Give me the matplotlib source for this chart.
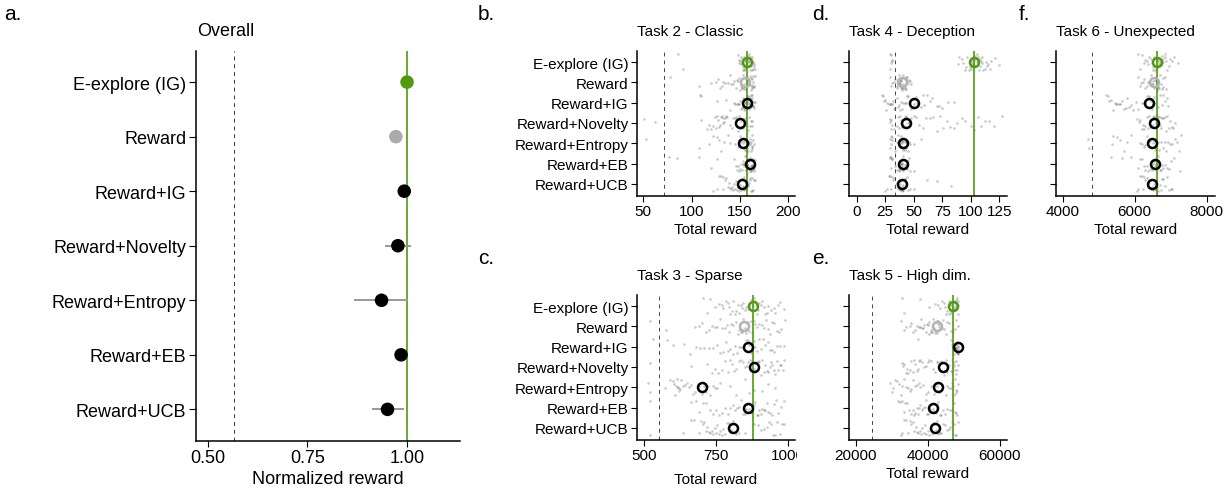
import matplotlib
matplotlib.use("Agg")
import matplotlib.pyplot as plt
from matplotlib.transforms import Bbox, TransformedBbox
import numpy as np

plt.rcParams["font.family"] = ["Liberation Sans", "DejaVu Sans"]

W, H = 1228, 489
GREEN = "#4f9a0f"
LIGHT = "#aaaaaa"

methods = ["E-explore (IG)", "Reward", "Reward+IG", "Reward+Novelty",
           "Reward+Entropy", "Reward+EB", "Reward+UCB"]

# overall normalized reward (mean and interval)
overall_mean = [1.000, 0.972, 0.993, 0.977, 0.936, 0.985, 0.951]
overall_lo = [0.998, 0.962, 0.985, 0.945, 0.868, 0.976, 0.913]
overall_hi = [1.002, 0.982, 1.000, 1.009, 1.003, 0.994, 0.993]
overall_base = 0.565

# task 2 - classic
t2_points = [
    [86, 91, 148, 149, 149, 150, 151, 151, 152, 152, 153, 153, 154, 154, 155, 155, 155, 156, 156, 156, 157, 157, 157, 158, 158, 158, 159, 159, 160, 160, 160, 161, 161, 162, 162, 163, 163, 164, 164, 165, 165, 166],
    [78, 108, 120, 125, 127, 129, 131, 132, 135, 138, 140, 141, 143, 144, 146, 147, 148, 149, 150, 151, 152, 152, 153, 154, 154, 155, 155, 156, 156, 157, 157, 158, 158, 159, 159, 160, 160, 161, 161, 162, 162, 163, 163, 164, 164, 165, 165, 166],
    [109, 110, 126, 136, 140, 144, 145, 147, 148, 149, 150, 151, 152, 153, 153, 154, 154, 155, 155, 156, 156, 157, 157, 158, 158, 159, 159, 160, 160, 161, 161, 162, 162, 163, 163, 164, 164, 165, 165, 166],
    [51, 62, 110, 116, 118, 120, 122, 124, 125, 126, 127, 128, 129, 130, 131, 132, 133, 134, 135, 136, 137, 140, 142, 143, 145, 146, 148, 149, 150, 151, 152, 153, 154, 155, 156, 157, 158, 159, 160, 161, 162, 163],
    [53, 108, 118, 122, 126, 128, 130, 134, 138, 140, 145, 148, 149, 150, 150, 151, 152, 153, 154, 155, 155, 156, 156, 157, 157, 158, 158, 159, 159, 160, 160, 161, 161, 162, 162, 163, 163, 164, 165],
    [77, 85, 108, 120, 126, 144, 146, 147, 148, 149, 150, 151, 152, 153, 153, 154, 154, 155, 155, 156, 156, 157, 157, 158, 158, 159, 159, 160, 160, 161, 161, 162, 162, 163, 163, 164, 164, 165, 165, 166],
    [122, 126, 128, 130, 132, 133, 135, 136, 138, 139, 140, 141, 142, 143, 144, 145, 146, 147, 148, 149, 150, 151, 152, 152, 153, 154, 154, 155, 156, 156, 157, 158, 158, 159, 160, 160, 161, 162, 163, 164, 165, 166],
]
t2_mean = [157, 155, 157, 150, 153.5, 160, 152]
t2_base = 71

# task 3 - sparse
t3_points = [
    [705, 720, 730, 745, 760, 770, 775, 785, 790, 795, 800, 805, 810, 815, 820, 825, 830, 835, 840, 845, 850, 855, 860, 865, 870, 875, 878, 882, 885, 888, 892, 896, 900, 905, 910, 915, 920, 925, 930, 940, 950, 955, 965, 970, 985],
    [521, 578, 676, 690, 700, 715, 725, 735, 745, 755, 765, 772, 780, 788, 795, 802, 810, 818, 825, 830, 835, 840, 845, 850, 855, 860, 865, 870, 875, 880, 885, 892, 900, 908, 915, 922, 930, 938, 945, 952, 960, 968, 975, 987],
    [532, 580, 600, 640, 660, 680, 695, 710, 725, 740, 752, 765, 775, 785, 792, 800, 808, 815, 822, 830, 838, 845, 852, 860, 865, 870, 875, 880, 885, 890, 898, 905, 912, 920, 928, 935, 942, 950, 960, 970, 985],
    [521, 665, 720, 735, 745, 758, 770, 780, 790, 798, 805, 812, 820, 828, 835, 842, 850, 856, 862, 868, 875, 880, 885, 890, 895, 900, 905, 910, 915, 920, 925, 930, 935, 940, 945, 950, 955, 960, 965, 970, 975, 980, 985],
    [515, 521, 573, 590, 600, 605, 610, 612, 615, 618, 620, 622, 625, 630, 635, 642, 650, 658, 665, 670, 676, 690, 700, 708, 715, 722, 730, 738, 745, 755, 763, 800, 820, 850, 865, 880, 910, 930, 955],
    [521, 665, 680, 690, 705, 715, 728, 740, 750, 760, 770, 780, 790, 800, 808, 815, 822, 830, 838, 845, 850, 855, 860, 865, 870, 875, 880, 885, 890, 895, 900, 905, 910, 915, 920, 925, 930, 935, 942, 950, 958, 965, 975, 985],
    [521, 636, 665, 675, 690, 698, 705, 710, 715, 720, 725, 730, 735, 740, 745, 750, 755, 760, 765, 770, 775, 780, 788, 795, 802, 810, 820, 830, 850, 880, 895, 905, 915, 925, 932, 940, 948, 955, 962, 970, 978, 985],
]
t3_mean = [877, 848, 860, 882, 702, 860, 808]
t3_base = 553

# task 4 - deception
t4_points = [
    [29, 29, 30, 30, 31, 31, 89, 90, 92, 93, 95, 96, 97, 98, 99, 99, 100, 100, 101, 101, 102, 102, 103, 103, 104, 104, 105, 105, 106, 106, 107, 108, 108, 109, 110, 110, 111, 112, 113, 114, 115, 117, 118, 121, 125],
    [29, 30, 31, 33, 34, 35, 35, 36, 36, 37, 37, 38, 38, 38, 39, 39, 39, 40, 40, 40, 40, 41, 41, 41, 42, 42, 42, 43, 43, 44, 44, 45, 46, 47, 48],
    [22, 23, 24, 25, 26, 27, 28, 29, 30, 31, 32, 33, 34, 35, 36, 37, 38, 39, 40, 41, 42, 43, 44, 45, 47, 48, 50, 52, 53, 56, 58, 59, 62, 64, 66, 70, 72, 75, 80, 85],
    [29, 29, 30, 30, 31, 33, 35, 36, 37, 38, 39, 40, 41, 42, 43, 44, 45, 46, 48, 50, 52, 55, 58, 61, 64, 67, 70, 73, 76, 79, 82, 85, 88, 92, 95, 100, 103, 106, 109, 112, 116, 120, 127],
    [29, 29, 30, 30, 31, 31, 34, 35, 36, 37, 37, 38, 38, 39, 39, 40, 40, 40, 41, 41, 41, 42, 42, 43, 43, 44, 45, 46, 47, 50, 56],
    [29, 29, 30, 30, 31, 31, 34, 35, 36, 37, 37, 38, 38, 39, 39, 40, 40, 40, 41, 41, 41, 42, 42, 43, 43, 44, 45, 46, 47, 50],
    [25, 27, 28, 29, 30, 31, 32, 33, 34, 35, 36, 37, 37, 38, 38, 39, 39, 40, 40, 40, 41, 41, 42, 42, 43, 44, 45, 47, 50, 62, 70, 83],
]
t4_mean = [102.5, 40, 50, 43, 41, 41, 40]
t4_base = 34

# task 5 - high dim.
t5_points = [
    [33000, 33500, 37800, 40500, 42000, 42800, 43500, 44000, 44500, 44900, 45200, 45500, 45800, 46000, 46200, 46400, 46600, 46800, 47000, 47150, 47300, 47450, 47600, 47750, 47900, 48000, 48100, 48200, 48300, 48400, 48500],
    [32600, 33500, 34000, 35000, 35500, 36000, 36500, 37000, 37500, 37800, 38200, 38500, 38800, 39100, 39400, 39700, 40000, 40300, 40500, 40800, 41000, 41200, 41500, 41700, 42000, 42200, 42300, 42500, 42600, 42800, 43000, 43200, 43500, 43800, 44000, 44300, 44600, 45000, 45500, 46000, 46500, 47000, 47500, 48000, 48300],
    [37400, 46500, 46800, 47000, 47200, 47400, 47500, 47700, 47800, 47900, 48000, 48100, 48150, 48200, 48250, 48300, 48350, 48400, 48450, 48500],
    [32800, 33200, 33500, 33900, 34200, 34600, 35000, 35400, 35800, 36200, 36500, 36900, 37200, 37600, 38000, 38500, 39000, 39500, 40000, 40500, 41000, 41500, 42000, 42500, 43000, 43700, 44500, 45000, 45500, 46000, 46500, 46800, 47000, 47200, 47400, 47600, 47800, 48000, 48200, 48500],
    [29500, 30000, 30500, 31000, 31500, 32000, 32500, 33000, 33500, 34000, 34500, 35000, 35500, 36000, 36500, 37000, 37500, 38000, 38700, 39500, 40200, 41000, 41700, 42500, 43200, 44000, 45000, 45500, 46000, 46500, 46800, 47000, 47300, 47500, 47800, 48000, 48200, 48400],
    [31800, 32300, 32800, 33300, 33800, 34300, 34800, 35300, 35800, 36200, 36500, 36900, 37200, 37600, 38000, 38400, 38800, 39200, 39500, 39900, 40200, 40600, 41000, 41400, 41800, 42200, 42500, 42900, 43300, 43700, 44200, 44800, 45500, 46200, 46800, 47200, 47500, 47900, 48200],
    [32600, 33000, 33500, 34000, 34500, 35000, 35500, 35900, 36300, 36700, 37000, 37400, 37800, 38200, 38500, 38900, 39200, 39600, 40000, 40400, 40800, 41200, 41500, 41900, 42300, 42700, 43000, 43400, 43800, 44300, 44800, 45300, 45800, 46300, 46800, 47200, 47600, 48000, 48300],
]
t5_mean = [47100, 42500, 48400, 44350, 42800, 41400, 41950]
t5_base = 24400

# task 6 - unexpected
t6_points = [
    [6090, 6150, 6200, 6250, 6300, 6340, 6380, 6410, 6440, 6470, 6500, 6520, 6550, 6570, 6590, 6610, 6620, 6640, 6650, 6670, 6680, 6700, 6720, 6740, 6760, 6780, 6800, 6830, 6850, 6880, 6900, 6940, 6980, 7030, 7080, 7200],
    [6100, 6140, 6180, 6220, 6260, 6300, 6330, 6360, 6400, 6420, 6450, 6470, 6500, 6520, 6540, 6560, 6580, 6600, 6620, 6640, 6660, 6680, 6700, 6720, 6750, 6780, 6800, 6830, 6870],
    [5210, 5250, 5300, 5350, 5400, 5440, 5480, 5520, 5560, 5600, 5650, 5700, 5750, 5800, 5850, 5900, 5950, 6050, 6100, 6200, 6250, 6300, 6350, 6400, 6450, 6480, 6520, 6550, 6600, 6650, 6700, 6750, 6800, 6850, 6900, 6930],
    [6070, 6110, 6150, 6190, 6230, 6270, 6300, 6340, 6370, 6400, 6430, 6460, 6490, 6510, 6540, 6560, 6590, 6610, 6640, 6660, 6690, 6710, 6740, 6770, 6800, 6840, 6870, 6910, 6950, 6990, 7030, 7070, 7110],
    [4700, 4720, 5360, 5400, 5500, 5600, 5700, 5800, 5900, 6140, 6200, 6250, 6300, 6350, 6390, 6430, 6470, 6500, 6530, 6570, 6600, 6640, 6680, 6720, 6780, 6830, 6880, 6920, 6980, 7050, 7120, 7180, 7240, 7290],
    [5350, 5650, 5900, 6100, 6150, 6200, 6250, 6300, 6340, 6380, 6420, 6450, 6480, 6510, 6540, 6570, 6600, 6630, 6660, 6690, 6720, 6760, 6800, 6840, 6900, 6950, 7000, 7100, 7250],
    [6060, 6100, 6150, 6190, 6230, 6270, 6300, 6340, 6370, 6400, 6430, 6450, 6480, 6500, 6530, 6550, 6580, 6600, 6630, 6660, 6690, 6720, 6760, 6800, 6850, 6900, 6950, 7000, 7050],
]
t6_mean = [6620, 6550, 6397, 6536, 6480, 6555, 6472]
t6_base = 4806


def rect(l, t, r, b):
    return [l / W, 1 - b / H, (r - l) / W, (b - t) / H]


def style_axes(ax, size):
    for s in ("top", "right"):
        ax.spines[s].set_visible(False)
    for s in ("left", "bottom"):
        ax.spines[s].set_linewidth(1.1)
        ax.spines[s].set_color("black")
    ax.tick_params(length=4, width=0.8, pad=2, labelsize=size, colors="black")


def ftext(x, y, s, size, ha="left"):
    fig.text(x / W, 1 - y / H, s, fontsize=size, ha=ha, va="center")


def row_jitter(n, row):
    # fixed scatter of heights inside a row (layout only, not data)
    k = np.arange(n)
    h = np.sin(k * 12.9898 + row * 78.233) * 43758.5453
    return (h - np.floor(h) - 0.5) * 0.78


fig = plt.figure(figsize=(W / 100, H / 100), dpi=100)

# panel a: overall
ax = fig.add_axes(rect(196, 52, 460, 442))
style_axes(ax, 13)
ypos = np.arange(len(methods))
ax.axvline(overall_base, color="#333333", lw=0.7, ls=(0, (4, 4)))
ax.axvline(1.0, color=GREEN, lw=1.2, zorder=1)
ax.hlines(ypos, overall_lo, overall_hi, color="#999999", lw=1.4, zorder=2)
cols = [GREEN, LIGHT] + ["black"] * 5
ax.scatter(overall_mean, ypos, s=95, c=cols, zorder=3, linewidths=0)
ax.set_yticks(ypos, methods)
ax.set_xticks([0.5, 0.75, 1.0], ["0.50", "0.75", "1.00"])
ax.set_xlim(0.47, 1.133)
ax.set_ylim(6.58, -0.57)
ax.tick_params(axis="y", length=5)
ftext(197, 31, "Overall", 13)
ftext(328, 480, "Normalized reward", 13, ha="center")
ftext(4, 15, "a.", 15)

panels = [
    ("b.", "Task 2 - Classic", t2_points, t2_mean, t2_base, (637, 52, 795, 197), (43.5, 207), [50, 100, 150, 200], True),
    ("c.", "Task 3 - Sparse", t3_points, t3_mean, t3_base, (637, 296, 795, 441), (477, 1023), [500, 750, 1000], True),
    ("d.", "Task 4 - Deception", t4_points, t4_mean, t4_base, (849, 52, 1007, 197), (-6.7, 131.7), [0, 25, 50, 75, 100, 125], False),
    ("e.", "Task 5 - High dim.", t5_points, t5_mean, t5_base, (849, 296, 1007, 441), (18139, 62028), [20000, 40000, 60000], False),
    ("f.", "Task 6 - Unexpected", t6_points, t6_mean, t6_base, (1056, 52, 1215, 197), (3814, 8231), [4000, 6000, 8000], False),
]

for letter, title, pts, means, base, box, xlim, xt, show_names in panels:
    l, t, r, b = box
    ax = fig.add_axes(rect(l, t, r, b))
    style_axes(ax, 11)
    ax.axvline(base, color="#444444", lw=0.7, ls=(0, (4, 4)), zorder=1)
    ax.axvline(means[0], color=GREEN, lw=1.2, zorder=2)
    for i, vals in enumerate(pts):
        ax.scatter(vals, i + row_jitter(len(vals), i), s=3.5, color="#555555",
                   alpha=0.32, linewidths=0, zorder=1.5)
    mcols = [GREEN, "#b3b3b3"] + ["black"] * 5
    for i, m in enumerate(means):
        ax.plot(m, i, "o", ms=6.5, mfc="none", mec=mcols[i], mew=1.8, zorder=3)
    ax.set_xlim(*xlim)
    ax.set_ylim(6.6, -0.55)
    ax.set_xticks(xt, [str(v) for v in xt])
    ax.set_yticks(ypos, methods if show_names else [])
    ftext(l, t - 20, title, 11)
    ftext(l - 159 if show_names else l - 37, t - 37, letter, 15)
    ylab = b + 33 if letter != "c." else b + 39
    ftext((l + r) / 2, ylab, "Total reward", 11, ha="center")
    if letter == "c.":
        clip = TransformedBbox(Bbox.from_extents(0, 0, 797 / W, 1), fig.transFigure)
        for lab in ax.get_xticklabels():
            lab.set_clip_on(True)
            lab.set_clip_box(clip)

fig.savefig("out.png", dpi=100)
